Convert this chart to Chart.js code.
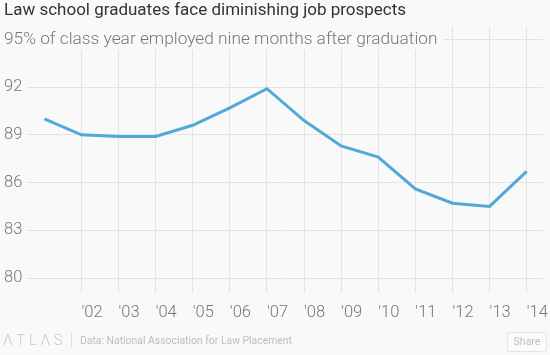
<!DOCTYPE html>
<html>
<head>
<meta charset="utf-8">
<script src="https://cdn.jsdelivr.net/npm/chart.js@4"></script>
<style>
  html, body { margin: 0; padding: 0; background: #f9f9f9; }
  #wrap { position: relative; width: 550px; height: 355px; background: #f9f9f9; overflow: hidden; }
  #c { position: absolute; left: 0; top: 0; }
  .foot { position: absolute; font-family: Roboto, "Noto Sans", sans-serif; white-space: nowrap; }
  #logo { left: 3px; top: 331px; font-size: 15px; font-weight: 300; letter-spacing: 3.6px; color: #c9c9c9; line-height: 18px; }
  #sep { left: 71px; top: 333px; width: 1px; height: 14px; background: #dddddd; }
  #src { left: 80px; top: 334px; font-size: 10.4px; color: #bdbdbd; line-height: 14px; }
  #share { left: 507px; top: 332px; width: 38px; height: 18px; border: 1px solid #e6e6e6; border-radius: 2px; background: #fbfbfb;
           font-size: 10.5px; color: #bdbdbd; line-height: 18px; text-align: center; }
</style>
</head>
<body>
<div id="wrap">
  <canvas id="c" width="550" height="355"></canvas>
  <div class="foot" id="logo">ΛTLΛS</div>
  <div class="foot" id="sep"></div>
  <div class="foot" id="src">Data: National Association for Law Placement</div>
  <div class="foot" id="share">Share</div>
</div>
<script>
const years = [2001, 2002, 2003, 2004, 2005, 2006, 2007, 2008, 2009, 2010, 2011, 2012, 2013, 2014];
const employed = [90.0, 89.0, 88.9, 88.9, 89.6, 90.7, 91.9, 89.9, 88.3, 87.6, 85.6, 84.7, 84.5, 86.7];
const xTickYears = [2002, 2003, 2004, 2005, 2006, 2007, 2008, 2009, 2010, 2011, 2012, 2013, 2014];
const xTickLabels = ["'02", "'03", "'04", "'05", "'06", "'07", "'08", "'09", "'10", "'11", "'12", "'13", "'14"];
const yTicks = [80, 83, 86, 89, 92, 95];
const yTickLabels = ["80", "83", "86", "89", "92", "95% of class year employed nine months after graduation"];
const titleText = "Law school graduates face diminishing job prospects";

const fam = "Roboto, 'Noto Sans', sans-serif";
const tickFont = { family: fam, size: 16.5, weight: '300' };
const subtitleFont = { family: fam, size: 17.3, weight: '300' };

new Chart(document.getElementById('c').getContext('2d'), {
  type: 'line',
  data: {
    datasets: [{
      data: years.map((y, i) => ({ x: y, y: employed[i] })),
      borderColor: '#52a9d8',
      borderWidth: 3,
      pointRadius: 0,
      tension: 0,
      fill: false
    }]
  },
  options: {
    responsive: false,
    animation: false,
    devicePixelRatio: 1,
    layout: { padding: { left: 4, right: 7, top: 0, bottom: 32 } },
    plugins: {
      legend: { display: false },
      tooltip: { enabled: false },
      title: {
        display: true,
        text: titleText,
        align: 'start',
        color: '#333333',
        font: { family: fam, size: 17, weight: 'normal' },
        padding: { top: 1, bottom: 4.6 }
      }
    },
    scales: {
      x: {
        type: 'linear',
        min: 2000.56,
        max: 2014.44,
        afterBuildTicks: s => { s.ticks = xTickYears.map(v => ({ value: v })); },
        afterFit: s => { s.height = 30; s.paddingLeft = 0; s.paddingRight = 0; },
        ticks: {
          callback: v => xTickLabels[xTickYears.indexOf(v)],
          align: 'start',
          padding: 10,
          color: '#777777',
          font: tickFont,
          autoSkip: false,
          maxRotation: 0,
          minRotation: 0
        },
        grid: { color: '#e3e3e3', lineWidth: 1, drawTicks: false },
        border: { display: false }
      },
      y: {
        min: 79.06,
        max: 95.84,
        afterBuildTicks: s => { s.ticks = yTicks.map(v => ({ value: v })); },
        afterFit: s => { s.width = 24; s.paddingTop = 0; s.paddingBottom = 0; },
        ticks: {
          callback: v => yTickLabels[yTicks.indexOf(v)],
          mirror: true,
          padding: -24,
          color: '#777777',
          font: ctx => (ctx.index === yTicks.length - 1 ? subtitleFont : tickFont),
          autoSkip: false,
          z: 1,
          showLabelBackdrop: ctx => ctx.index === yTicks.length - 1,
          backdropColor: '#f9f9f9',
          backdropPadding: { left: 2, right: 6, top: 4, bottom: 0 }
        },
        grid: { color: '#e3e3e3', lineWidth: 1, drawTicks: false },
        border: { display: false }
      }
    }
  }
});
</script>
</body>
</html>
